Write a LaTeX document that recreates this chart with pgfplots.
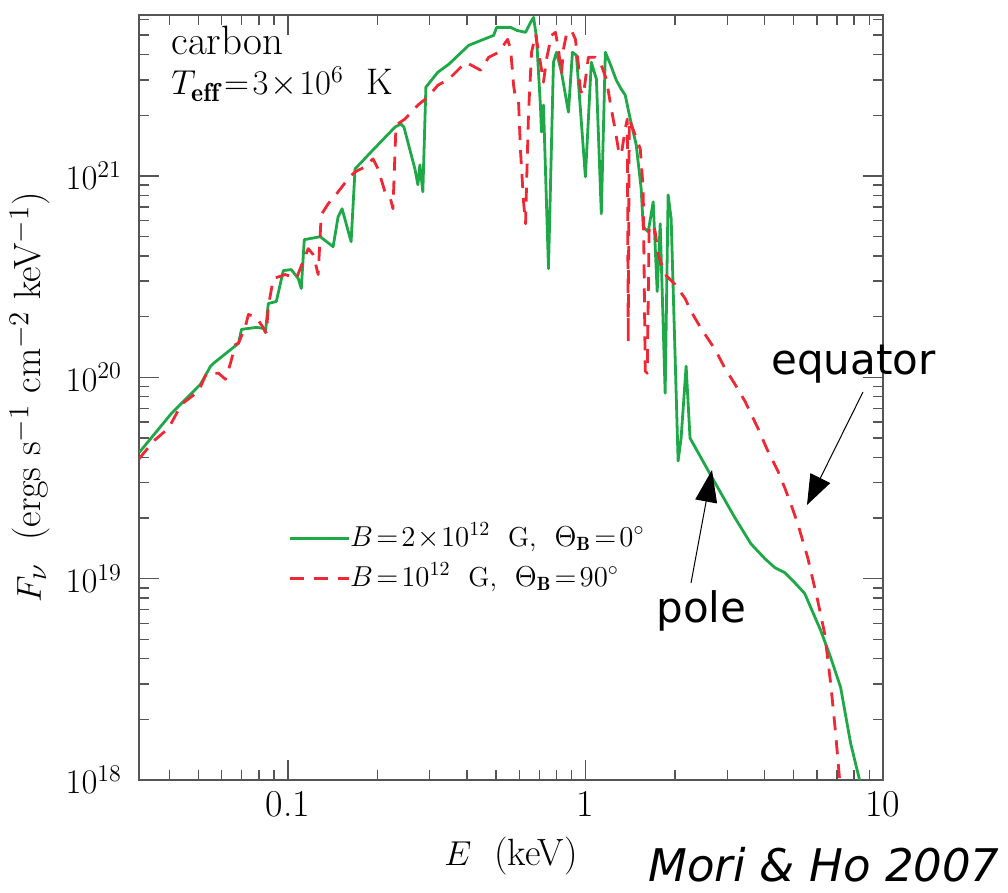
\documentclass[border=0pt]{standalone}
\usepackage{fontspec}
\usepackage{pgfplots}
\pgfplotsset{compat=1.18}
\usetikzlibrary{arrows.meta}
\newfontfamily\dejavu{DejaVu Sans}
\definecolor{polegreen}{RGB}{30,168,72}
\definecolor{eqred}{RGB}{238,40,52}
\definecolor{axgray}{RGB}{85,85,85}

\begin{document}
\begin{tikzpicture}
\begin{axis}[
    at={(0pt,0pt)}, anchor=south west,
    scale only axis, width=372pt, height=382.5pt,
    xmode=log, ymode=log,
    xmin=0.0316228, xmax=10, ymin=1e18, ymax=6.3e21,
    xtick={0.1,1,10}, xticklabels={0.1,1,10},
    minor xtick={0.04,0.05,0.06,0.07,0.08,0.09,0.2,0.3,0.4,0.5,0.6,0.7,0.8,0.9,2,3,4,5,6,7,8,9},
    ytick={1e18,1e19,1e20,1e21},
    minor ytick={2e18,3e18,4e18,5e18,6e18,7e18,8e18,9e18,2e19,3e19,4e19,5e19,6e19,7e19,8e19,9e19,
                 2e20,3e20,4e20,5e20,6e20,7e20,8e20,9e20,2e21,3e21,4e21,5e21,6e21},
    tick align=inside,
    major tick length=10pt, minor tick length=5pt,
    tick style={axgray, line width=0.7pt},
    axis line style={axgray, line width=0.9pt},
    xticklabel style={font=\fontsize{19}{19}\selectfont, yshift=-2pt},
    yticklabel style={font=\fontsize{17}{17}\selectfont, xshift=-5pt},
    xlabel={$E$\ \ (keV)},
    xlabel style={at={([yshift=-43pt]axis description cs:0.5,0)}, anchor=base,
                  font=\fontsize{19}{19}\selectfont},
    ylabel={$F_\nu$\ \ (ergs s$^{-1}$ cm$^{-2}$ keV$^{-1}$)},
    ylabel style={at={([xshift=-49pt]axis description cs:0,0.5)}, anchor=base, rotate=0,
                  font=\fontsize{19}{19}\selectfont},
    legend image code/.code={\draw[#1] (0pt,0pt) -- (29.5pt,0pt);},
    legend cell align=left,
    legend style={draw=none, fill=none, inner sep=0pt, at={(0.2003,0.29)}, anchor=west,
                  font=\fontsize{13.7}{13.7}\selectfont, row sep=4pt,
                  nodes={inner sep=0pt, text height=12pt, text depth=4pt}},
]
\addplot[polegreen, line width=1.4pt, line join=round] coordinates {
(0.0316,4.21e19) (0.0407,6.63e19) (0.0509,9.23e19) (0.0550,1.134e20) (0.0563,1.173e20)
(0.0632,1.345e20) (0.0683,1.474e20) (0.0699,1.729e20) (0.0784,1.768e20) (0.0828,1.748e20)
(0.0841,1.670e20) (0.0860,2.324e20) (0.0915,2.378e20) (0.0966,3.386e20) (0.1027,3.425e20)
(0.1084,3.092e20) (0.1110,2.758e20) (0.1136,4.823e20) (0.1285,4.989e20) (0.1420,4.451e20)
(0.1476,6.266e20) (0.1522,6.866e20) (0.1632,4.713e20) (0.1683,1.083e21) (0.1905,1.315e21)
(0.2292,1.748e21) (0.2400,1.809e21) (0.2456,1.748e21) (0.2674,1.083e21) (0.2736,9.03e20)
(0.2779,1.134e21) (0.2843,8.33e20) (0.2911,2.758e21) (0.3193,3.272e21) (0.3475,3.585e21)
(0.4055,4.451e21) (0.4918,4.989e21) (0.5032,5.465e21) (0.5607,5.465e21) (0.5873,5.282e21)
(0.6295,5.163e21) (0.6544,5.785e21) (0.6697,6.125e21) (0.6851,4.876e21) (0.7066,2.196e21)
(0.7121,1.651e21) (0.7232,2.246e21) (0.7516,3.464e20) (0.7812,3.668e21) (0.7996,4.111e21)
(0.8311,3.272e21) (0.8770,2.074e21) (0.9046,4.111e21) (0.9329,3.972e21) (1.000,9.89e20)
(1.047,3.668e21) (1.089,3.021e21) (1.131,6.484e20) (1.167,4.111e21) (1.213,3.585e21)
(1.270,2.987e21) (1.320,2.696e21) (1.361,2.518e21) (1.415,1.915e21) (1.482,1.424e21)
(1.540,8.62e20) (1.564,5.59e20) (1.626,5.28e20) (1.690,7.43e20) (1.743,2.666e20)
(1.784,5.785e20) (1.854,8.33e19) (1.897,8.05e20) (1.942,6.125e20) (2.049,3.838e19)
(2.097,4.989e19) (2.180,1.134e20) (2.247,4.989e19) (2.623,3.309e19) (3.181,2.004e19)
(3.598,1.490e19) (4.009,1.256e19) (4.330,1.134e19) (4.677,1.071e19) (5.050,9.55e18)
(5.458,8.43e18) (6.175,5.53e18) (6.670,4.06e18) (7.204,2.887e18) (7.783,1.525e18)
(8.343,1.0e18) (8.604,7.96e17)
};
\addlegendentry{$B\!=\!2\!\times\!10^{12}$\ \ G,\ \ $\Theta_{\mathbf{B}}\!=\!0^\circ$}
\addplot[eqred, line width=1.4pt, line join=round, dash pattern=on 7pt off 5pt] coordinates {
(0.0316,3.927e19) (0.03544,4.823e19) (0.03978,5.59e19) (0.04396,7.35e19) (0.05013,8.52e19)
(0.05333,1.047e20) (0.05851,1.047e20) (0.06175,9.77e19) (0.06418,1.173e20) (0.06670,1.457e20)
(0.0683,1.474e20) (0.07204,1.789e20) (0.07374,2.051e20) (0.0784,1.982e20) (0.08343,1.729e20)
(0.08472,1.651e20) (0.0860,2.246e20) (0.08942,3.092e20) (0.09808,3.236e20) (0.1068,3.092e20)
(0.1171,4.351e20) (0.1218,4.063e20) (0.1265,3.236e20) (0.1295,6.41e20) (0.1367,7.27e20)
(0.1476,8.33e20) (0.1594,9.66e20) (0.1683,1.047e21) (0.1818,1.108e21) (0.1934,1.214e21)
(0.2010,1.083e21) (0.2121,8.33e20) (0.2205,7.87e20) (0.2256,6.866e20) (0.2310,1.789e21)
(0.2475,1.915e21) (0.2736,2.246e21) (0.2956,2.461e21) (0.3193,2.82e21) (0.3475,3.021e21)
(0.3963,3.668e21) (0.4449,3.347e21) (0.4732,3.882e21) (0.5110,4.111e21) (0.5479,4.766e21)
(0.5607,4.253e21) (0.5737,2.82e21) (0.5827,2.405e21) (0.5963,2.324e21) (0.6056,1.315e21)
(0.6198,7.43e20) (0.6295,5.785e20) (0.6343,9.03e20) (0.6442,2.074e21) (0.6594,4.111e21)
(0.6801,5.047e21) (0.7121,3.385e21) (0.7232,2.92e21) (0.7401,3.795e21) (0.7693,4.989e21)
(0.7936,5.163e21) (0.8119,4.253e21) (0.8311,3.199e21) (0.8437,4.253e21) (0.8636,5.047e21)
(0.8977,5.282e21) (0.9258,4.766e21) (0.9474,3.544e21) (0.9621,2.666e21) (0.9847,2.518e21)
(1.0234,3.882e21) (1.080,3.882e21) (1.131,3.544e21) (1.176,3.021e21) (1.222,2.146e21)
(1.260,1.689e21) (1.290,1.361e21) (1.320,1.271e21) (1.361,1.708e21) (1.383,1.915e21)
(1.393,1.508e20) (1.404,1.915e21) (1.470,1.596e21) (1.529,1.361e21) (1.564,8.62e20)
(1.589,1.071e20) (1.614,1.047e20) (1.638,5.59e20) (1.677,5.72e20) (1.716,5.28e20)
(1.756,4.063e20) (1.854,3.236e20) (2.002,2.887e20) (2.163,2.461e20) (2.265,2.122e20)
(2.447,1.748e20) (2.726,1.376e20) (2.944,1.108e20) (3.181,9.23e19) (3.436,7.61e19)
(3.798,5.59e19) (4.103,4.30e19) (4.433,3.425e19) (4.677,2.821e19) (4.899,2.351e19)
(5.171,1.873e19) (5.586,1.271e19) (6.034,7.78e18) (6.368,5.34e18) (6.670,3.021e18)
(6.932,1.709e18) (7.150,1.0e18) (7.317,5.65e17)
};
\addlegendentry{$B\!=\!10^{12}$\ \ G,\ \ $\Theta_{\mathbf{B}}\!=\!90^\circ$}
\end{axis}

% labels inside the frame
\node[anchor=base west, inner sep=0pt, font=\fontsize{20.5}{20.5}\selectfont] at (16pt,362.5pt) {carbon};
\node[anchor=base west, inner sep=0pt, font=\fontsize{18.5}{18.5}\selectfont] at (16pt,342.5pt)
    {$T_{\mathbf{eff}}\!=\!3\!\times\!10^{6}$\ \ K};

% annotations
\node[anchor=base west, inner sep=0pt, font=\dejavu\fontsize{21}{21}\selectfont] at (316pt,202.5pt) {equator};
\node[anchor=base west, inner sep=0pt, font=\dejavu\fontsize{21}{21}\selectfont] at (258.5pt,78.5pt) {pole};
\draw[line width=0.5pt, -{Triangle[length=16pt,width=11pt]}] (276pt,98.5pt) -- (286.5pt,155pt);
\draw[line width=0.5pt, -{Triangle[length=15pt,width=11pt]}] (362pt,194pt) -- (334pt,137.5pt);
\node[anchor=base east, inner sep=0pt, font=\dejavu\itshape\fontsize{22.5}{22.5}\selectfont] at (430.5pt,-51pt) {Mori \& Ho 2007};

\pgfresetboundingbox
\path[use as bounding box] (-69.5pt,-56.5pt) rectangle (434.5pt,390pt);
\end{tikzpicture}
\end{document}
